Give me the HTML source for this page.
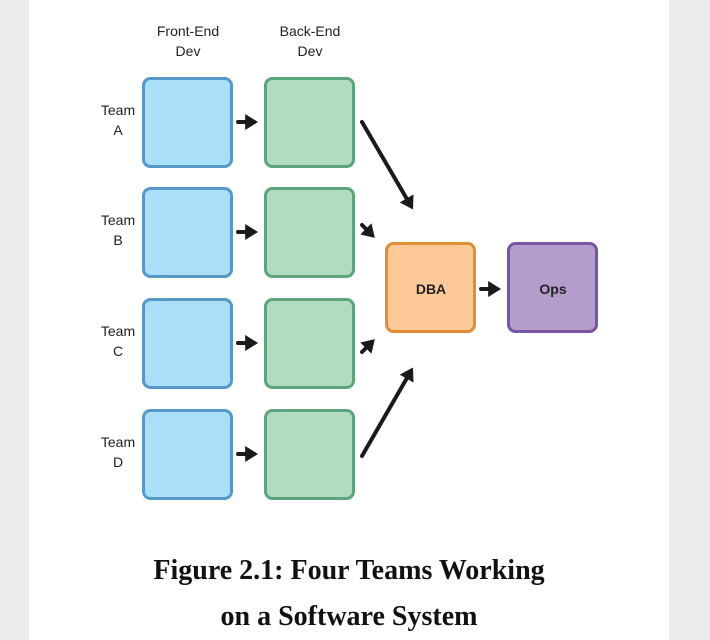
<!DOCTYPE html>
<html><head><meta charset="utf-8"><style>
body{margin:0;width:710px;height:640px;background:#ececec;overflow:hidden;font-family:"Liberation Sans",sans-serif}
#page{position:absolute;left:29px;top:0;width:640px;height:640px;background:#fff}
</style></head><body>
<div id="page"></div>
<svg width="710" height="640" style="position:absolute;left:0;top:0">
<defs><marker id="ah" markerWidth="4" markerHeight="4" refX="2.2" refY="2" orient="auto" markerUnits="strokeWidth"><path d="M0,0 L3.2,2 L0,4 Z" fill="#1a1a1a"/></marker></defs>
<g font-family="Liberation Sans, sans-serif" font-size="14" fill="#222" text-anchor="middle">
<text x="188" y="36">Front-End</text>
<text x="188" y="56">Dev</text>
<text x="310" y="36">Back-End</text>
<text x="310" y="56">Dev</text>
</g>
<g id="rows"></g>
<rect x="386.5" y="243.5" width="88" height="88" rx="7" fill="#fdc998" stroke="#e08e36" stroke-width="3"/>
<text x="431" y="294" text-anchor="middle" font-size="14" font-weight="bold" fill="#222">DBA</text>
<rect x="508.5" y="243.5" width="88" height="88" rx="7" fill="#b49ccb" stroke="#7655a5" stroke-width="3"/>
<text x="553" y="294" text-anchor="middle" font-size="14" font-weight="bold" fill="#222">Ops</text>
<g stroke="#1a1a1a" stroke-width="4" stroke-linecap="round" fill="none">
<line x1="481" y1="289" x2="497" y2="289" marker-end="url(#ah)"/>
<line x1="362" y1="122" x2="411" y2="206" marker-end="url(#ah)"/>
<line x1="362" y1="225" x2="372" y2="235" marker-end="url(#ah)"/>
<line x1="362" y1="352" x2="372" y2="342" marker-end="url(#ah)"/>
<line x1="362" y1="456" x2="411" y2="371" marker-end="url(#ah)"/>
</g>
<g font-family="Liberation Serif, serif" font-size="28" font-weight="bold" fill="#111" text-anchor="middle">
<text x="349" y="579">Figure 2.1: Four Teams Working</text>
<text x="349" y="625">on a Software System</text>
</g>
</svg>
<script>
const teams=['A','B','C','D'];
const tops=[78,188,299,410];
const g=document.getElementById('rows');
const ns='http://www.w3.org/2000/svg';
function mk(t,a){const e=document.createElementNS(ns,t);for(const k in a)e.setAttribute(k,a[k]);g.appendChild(e);return e;}
teams.forEach((t,i)=>{
 const y=tops[i];
 const l1=mk('text',{x:118,y:y+37,'text-anchor':'middle','font-size':14,fill:'#222','font-family':'Liberation Sans, sans-serif'});l1.textContent='Team';
 
 
 const l2=mk('text',{x:118,y:y+57,'text-anchor':'middle','font-size':14,fill:'#222','font-family':'Liberation Sans, sans-serif'});l2.textContent=t;
 const f=mk('rect',{x:143.5,y:y+0.5,width:88,height:88,rx:7,fill:'#a9dff8',stroke:'#5698c8','stroke-width':3});
 
 
 const b=mk('rect',{x:265.5,y:y+0.5,width:88,height:88,rx:7,fill:'#b2dcc2',stroke:'#5ba47c','stroke-width':3});
 
 
 const a=mk('line',{x1:238,y1:y+44,x2:254,y2:y+44,stroke:'#1a1a1a','stroke-width':4,'stroke-linecap':'round','marker-end':'url(#ah)'});
 
 
});
</script>
</body></html>
